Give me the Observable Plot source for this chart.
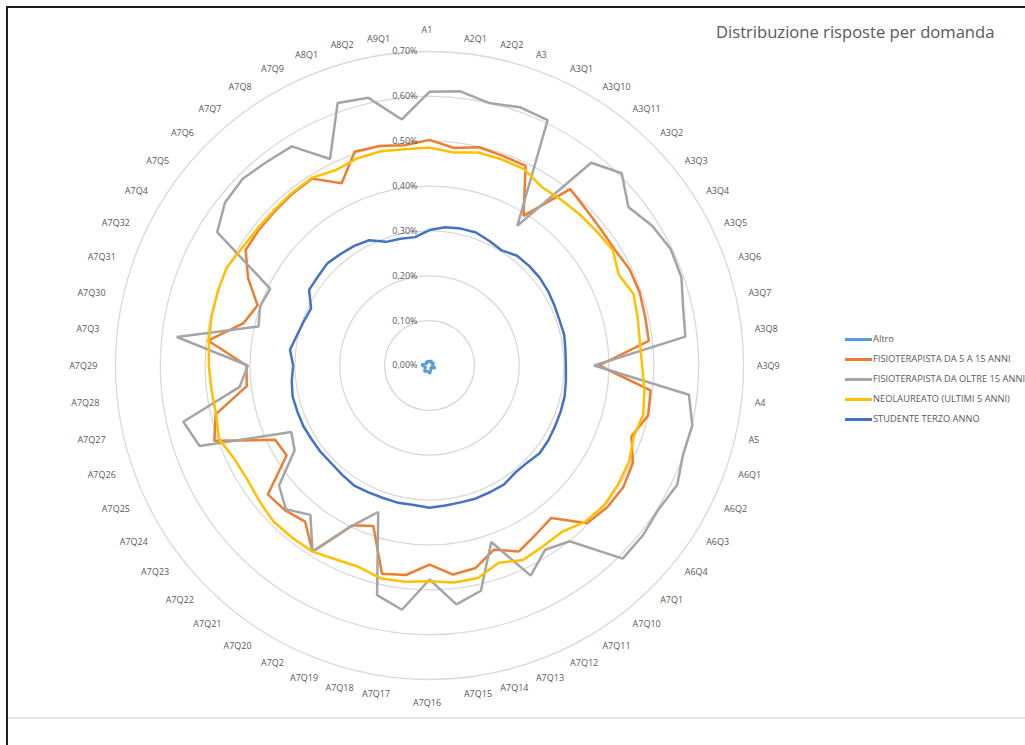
<!DOCTYPE html>
<html><head><meta charset="utf-8">
<script src="https://cdn.jsdelivr.net/npm/d3@7"></script>
<script src="https://cdn.jsdelivr.net/npm/@observablehq/plot@0.6"></script>
<style>
body{margin:0;background:#fff;font-family:"Open Sans",sans-serif;overflow:hidden;}
#wrap{position:relative;width:1025px;height:745px;overflow:hidden;background:#fff;}
#chart{position:absolute;left:0;top:0;}
#frame{position:absolute;left:6px;top:6px;width:1100px;height:800px;border-left:2px solid #1e1e1e;border-top:2px solid #1e1e1e;pointer-events:none;}
#bottomline{position:absolute;left:8px;top:717px;width:1017px;height:2px;background:#e6e6e6;}
#title{position:absolute;left:716px;top:21px;font-size:16.6px;line-height:22px;color:#595959;white-space:nowrap;}
#legend{position:absolute;left:845px;top:332px;}
.li{position:relative;height:20.1px;white-space:nowrap;}
.li span.sw{position:absolute;left:0;top:6px;width:27px;height:2.5px;}
.li span.tx{position:absolute;left:28px;top:-1px;font-size:9.3px;line-height:16px;color:#595959;}
</style></head><body>
<div id="wrap">
  <div id="chart"></div>
  <div id="bottomline"></div>
  <div id="frame"></div>
  <div id="title">Distribuzione risposte per domanda</div>
  <div id="legend"></div>
</div>
<script>
const categories = ["A1","A2Q1","A2Q2","A3","A3Q1","A3Q10","A3Q11","A3Q2","A3Q3","A3Q4","A3Q5","A3Q6","A3Q7","A3Q8","A3Q9","A4","A5","A6Q1","A6Q2","A6Q3","A6Q4","A7Q1","A7Q10","A7Q11","A7Q12","A7Q13","A7Q14","A7Q15","A7Q16","A7Q17","A7Q18","A7Q19","A7Q2","A7Q20","A7Q21","A7Q22","A7Q23","A7Q24","A7Q25","A7Q26","A7Q27","A7Q28","A7Q29","A7Q3","A7Q30","A7Q31","A7Q32","A7Q4","A7Q5","A7Q6","A7Q7","A7Q8","A7Q9","A8Q1","A8Q2","A9Q1"];

const seriesNames = ["Altro","FISIOTERAPISTA DA 5 A 15 ANNI","FISIOTERAPISTA DA OLTRE 15 ANNI","NEOLAUREATO (ULTIMI 5 ANNI)","STUDENTE TERZO ANNO"];
const seriesColors = ["#5B9BD5","#ED7D31","#A5A5A5","#FFC000","#4472C4"];

// values in percent
const altro = [0.006,0.008,0.010,0.012,0.010,0.008,0.006,0.008,0.010,0.012,0.010,0.008,0.006,0.004,0.006,0.008,0.010,0.012,0.014,0.012,0.010,0.008,0.006,0.004,0.006,0.008,0.012,0.016,0.018,0.016,0.014,0.012,0.014,0.016,0.018,0.016,0.014,0.010,0.008,0.010,0.012,0.014,0.016,0.018,0.014,0.010,0.008,0.006,0.008,0.010,0.012,0.010,0.008,0.010,0.012,0.008];
const fisio5_15 = [0.503,0.488,0.499,0.495,0.494,0.394,0.503,0.493,0.488,0.487,0.495,0.496,0.493,0.492,0.378,0.496,0.500,0.477,0.503,0.510,0.507,0.497,0.435,0.445,0.460,0.435,0.463,0.469,0.444,0.470,0.476,0.379,0.395,0.490,0.445,0.456,0.461,0.376,0.382,0.508,0.489,0.410,0.408,0.497,0.425,0.406,0.449,0.484,0.486,0.487,0.490,0.492,0.451,0.505,0.502,0.494];
const fisioOltre15 = [0.610,0.615,0.600,0.610,0.607,0.368,0.578,0.606,0.567,0.586,0.597,0.595,0.580,0.574,0.367,0.582,0.601,0.599,0.613,0.603,0.608,0.609,0.501,0.485,0.520,0.417,0.515,0.536,0.477,0.548,0.525,0.346,0.396,0.490,0.426,0.453,0.429,0.355,0.342,0.543,0.563,0.426,0.405,0.567,0.391,0.400,0.394,0.559,0.583,0.589,0.581,0.577,0.511,0.620,0.612,0.552];
const neolaureato = [0.486,0.478,0.487,0.487,0.486,0.470,0.472,0.475,0.478,0.483,0.468,0.482,0.476,0.472,0.474,0.482,0.489,0.482,0.494,0.497,0.499,0.492,0.474,0.476,0.481,0.466,0.486,0.487,0.481,0.485,0.487,0.476,0.480,0.490,0.491,0.492,0.485,0.479,0.482,0.497,0.488,0.489,0.492,0.495,0.498,0.500,0.502,0.493,0.490,0.490,0.492,0.494,0.483,0.489,0.490,0.485];
const studente = [0.302,0.310,0.313,0.314,0.308,0.303,0.313,0.314,0.314,0.312,0.309,0.307,0.308,0.305,0.304,0.306,0.309,0.310,0.311,0.313,0.314,0.307,0.306,0.313,0.313,0.314,0.313,0.314,0.317,0.313,0.314,0.313,0.314,0.316,0.312,0.309,0.310,0.310,0.312,0.312,0.313,0.309,0.304,0.313,0.303,0.297,0.293,0.317,0.318,0.322,0.318,0.315,0.310,0.292,0.290,0.288];

const ringValues = [0.1,0.2,0.3,0.4,0.5,0.6,0.7];
const tickValues = [0,0.1,0.2,0.3,0.4,0.5,0.6,0.7];

const seriesValues = [altro, fisio5_15, fisioOltre15, neolaureato, studente];
const N = categories.length;
const ang = i => i * 2 * Math.PI / N;

const table = [];
seriesNames.forEach((s, k) => {
  seriesValues[k].forEach((v, i) => {
    table.push({series: s, cat: categories[i], value: v, px: v * Math.sin(ang(i)), py: v * Math.cos(ang(i))});
  });
});

const LR = 0.735;
const labels = categories.map((c, i) => {
  const s = Math.sin(ang(i)), co = Math.cos(ang(i));
  const mid = Math.abs(s) < 0.01;
  const r = mid ? 0.75 : LR;
  return {c, lx: r * s, ly: r * co, side: mid ? "m" : (s > 0 ? "r" : "l")};
});

const fmt = v => v.toFixed(2).replace(".", ",") + "%";
const txtStyle = {fill: "#595959", fontSize: 9};
const lblStyle = {...txtStyle, dx: -2.5, dy: 1};

const chart = Plot.plot({
  width: 1025, height: 745, margin: 0,
  style: {background: "transparent", fontFamily: "'Open Sans', sans-serif", overflow: "visible"},
  x: {domain: [-0.7, 0.7], range: [115, 743], axis: null},
  y: {domain: [-0.7, 0.7], range: [679, 51], axis: null},
  r: {type: "linear", domain: [0, 0.7], range: [0, 314]},
  color: {domain: seriesNames, range: seriesColors},
  marks: [
    Plot.dot(ringValues, {x: d => 0, y: d => 0, r: d => d, stroke: "#d9d9d9", strokeWidth: 1.3, fill: "none"}),
    Plot.line(table, {x: "px", y: "py", z: "series", stroke: "series", curve: "linear-closed", strokeWidth: 2.5, strokeLinejoin: "miter"}),
    Plot.text(tickValues, {x: d => 0, y: d => d, text: fmt, textAnchor: "end", dx: -12, ...txtStyle}),
    Plot.text(labels.filter(d => d.side === "r"), {x: "lx", y: "ly", text: "c", textAnchor: "start", ...lblStyle}),
    Plot.text(labels.filter(d => d.side === "l"), {x: "lx", y: "ly", text: "c", textAnchor: "end", ...lblStyle}),
    Plot.text(labels.filter(d => d.side === "m"), {x: "lx", y: "ly", text: "c", textAnchor: "middle", ...lblStyle})
  ]
});
document.getElementById("chart").appendChild(chart);

const legend = document.getElementById("legend");
seriesNames.forEach((s, k) => {
  const row = document.createElement("div");
  row.className = "li";
  row.innerHTML = `<span class="sw" style="background:${seriesColors[k]}"></span><span class="tx">${s}</span>`;
  legend.appendChild(row);
});
</script>
</body></html>
